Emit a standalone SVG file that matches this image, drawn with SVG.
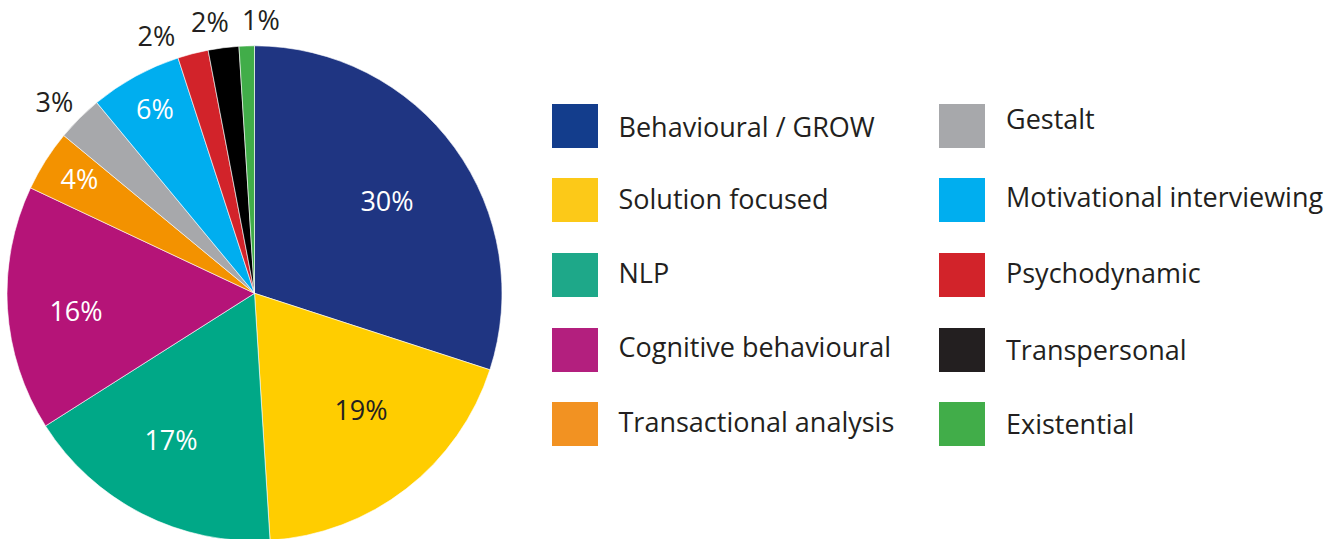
<svg xmlns="http://www.w3.org/2000/svg" width="1341" height="539" viewBox="0 0 1341 539">
<style>
.sl{stroke:#ffffff;stroke-width:0.6;stroke-linejoin:round}
.lbl{font-family:"Open Sans","Liberation Sans",sans-serif;font-size:27px;text-anchor:middle}
.w{fill:#ffffff}
.d{fill:#231f20}
.lt{font-family:"Open Sans","Liberation Sans",sans-serif;font-size:27px;fill:#231f20;font-variant-ligatures:none}
</style>
<rect width="1341" height="539" fill="#ffffff"/>
<g id="pie">
<g id="slice-behavioural"><path class="sl" fill="#1f3582" d="M254.5,293.3 L254.5,45.8 A247.5,247.5 0 0 1 489.89,369.78 Z"/></g>
<g id="slice-solution"><path class="sl" fill="#ffcd00" d="M254.5,293.3 L489.89,369.78 A247.5,247.5 0 0 1 270.04,540.31 Z"/></g>
<g id="slice-nlp"><path class="sl" fill="#00a887" d="M254.5,293.3 L270.04,540.31 A247.5,247.5 0 0 1 45.53,425.92 Z"/></g>
<g id="slice-cognitive"><path class="sl" fill="#b51478" d="M254.5,293.3 L45.53,425.92 A247.5,247.5 0 0 1 30.55,187.92 Z"/></g>
<g id="slice-transactional"><path class="sl" fill="#f39200" d="M254.5,293.3 L30.55,187.92 A247.5,247.5 0 0 1 63.8,135.54 Z"/></g>
<g id="slice-gestalt"><path class="sl" fill="#a7a8ab" d="M254.5,293.3 L63.8,135.54 A247.5,247.5 0 0 1 96.74,102.6 Z"/></g>
<g id="slice-motivational"><path class="sl" fill="#00aeef" d="M254.5,293.3 L96.74,102.6 A247.5,247.5 0 0 1 178.02,57.91 Z"/></g>
<g id="slice-psychodynamic"><path class="sl" fill="#d2232a" d="M254.5,293.3 L178.02,57.91 A247.5,247.5 0 0 1 208.12,50.18 Z"/></g>
<g id="slice-transpersonal"><path class="sl" fill="#000000" d="M254.5,293.3 L208.12,50.18 A247.5,247.5 0 0 1 238.96,46.29 Z"/></g>
<g id="slice-existential"><path class="sl" fill="#41ad49" d="M254.5,293.3 L238.96,46.29 A247.5,247.5 0 0 1 254.5,45.8 Z"/></g>
</g>
<g id="pie-labels">
<text class="lbl w" x="387" y="210.5">30%</text>
<text class="lbl d" x="361" y="420">19%</text>
<text class="lbl w" x="171" y="450">17%</text>
<text class="lbl w" x="76" y="320.5">16%</text>
<text class="lbl w" x="79.5" y="188.5">4%</text>
<text class="lbl d" x="54.5" y="111.5">3%</text>
<text class="lbl w" x="155" y="118.5">6%</text>
<text class="lbl d" x="156.5" y="45.5">2%</text>
<text class="lbl d" x="210" y="32.3">2%</text>
<text class="lbl d" x="261" y="30">1%</text>
</g>
<g id="legend">
<g id="leg-behavioural"><rect x="552" y="104" width="46" height="44" fill="#133d8c"/><text class="lt" x="618.5" y="136.7">Behavioural / GROW</text></g>
<g id="leg-solution"><rect x="552" y="178" width="46" height="44" fill="#fcc918"/><text class="lt" x="618.5" y="209">Solution focused</text></g>
<g id="leg-nlp"><rect x="552" y="253" width="46" height="44" fill="#1ea889"/><text class="lt" x="618.5" y="283.3">NLP</text></g>
<g id="leg-cognitive"><rect x="552" y="328" width="46" height="44" fill="#b31f7e"/><text class="lt" x="618.5" y="357.3">Cognitive behavioural</text></g>
<g id="leg-transactional"><rect x="552" y="402" width="46" height="44" fill="#f29222"/><text class="lt" x="618.5" y="431.7">Transactional analysis</text></g>
<g id="leg-gestalt"><rect x="939" y="104" width="46" height="44" fill="#a7a8ab"/><text class="lt" x="1006" y="129.3">Gestalt</text></g>
<g id="leg-motivational"><rect x="939" y="178" width="46" height="44" fill="#00aeef"/><text class="lt" x="1006" y="206.7">Motivational interviewing</text></g>
<g id="leg-psychodynamic"><rect x="939" y="253" width="46" height="44" fill="#d2232a"/><text class="lt" x="1006" y="283.3">Psychodynamic</text></g>
<g id="leg-transpersonal"><rect x="939" y="328" width="46" height="44" fill="#231f20"/><text class="lt" x="1006" y="360">Transpersonal</text></g>
<g id="leg-existential"><rect x="939" y="402" width="46" height="44" fill="#41ad49"/><text class="lt" x="1006" y="434.3">Existential</text></g>
</g>
</svg>
